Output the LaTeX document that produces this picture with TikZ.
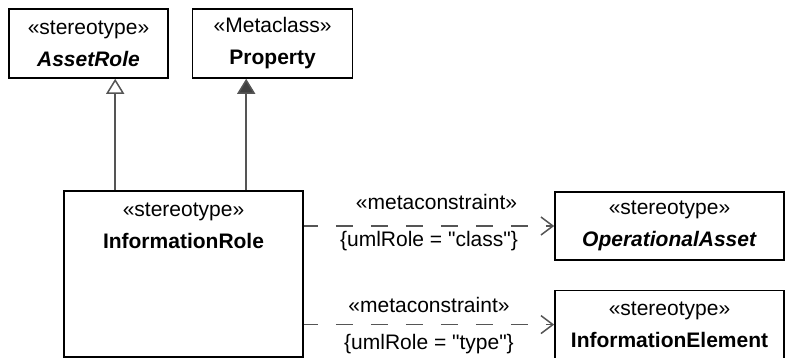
\documentclass[tikz,border=0pt]{standalone}
\usepackage{fontspec}
\setmainfont{Liberation Sans}
\usetikzlibrary{positioning,arrows.meta,calc}
\definecolor{lineC}{RGB}{85,85,85}
\definecolor{headC}{RGB}{64,64,64}
\tikzset{
	classbox/.style={draw, line width=1.6pt, fill=white, align=center,
		font=\fontsize{21}{32}\selectfont, inner sep=0pt},
	classtext/.style={align=center, font=\fontsize{21}{32}\selectfont, inner sep=0pt},
	gen/.style={-{Triangle[open, length=15pt, width=18pt, fill=white]}, line width=1.5pt, lineC},
	ext/.style={-{Triangle[length=15pt, width=18pt, fill=headC]}, line width=1.5pt, lineC},
	dep/.style={-{Straight Barb[length=12pt, width=18pt]}, line width=1.5pt, lineC,
		dash pattern=on 17pt off 18pt, dash phase=3pt},
	deplabel/.style={font=\fontsize{21}{25}\selectfont, inner sep=2pt, text=black},
}

\begin{document}
\begin{tikzpicture}[x=1pt, y=1pt]
		\useasboundingbox (0,0) rectangle (785,358);
		
		% =============== METACLASSES (top row) ===============
		\node[classbox, minimum width=159pt, minimum height=69pt] (ar) at (88.5,314.5)
		{«stereotype»\\\textbf{\textit{AssetRole}}};
		\node[classbox, minimum width=160pt, minimum height=69pt, right=23pt of ar] (prop)
		{«Metaclass»\\\textbf{Property}};
		
		% =============== STEREOTYPE (left) ===============
		\node[classbox, minimum width=239pt, minimum height=166pt] (ir) at (183.5,84) {};
		\node[classtext] (irtext) at ($(ir.north)+(0,-36)$)
		{«stereotype»\\\textbf{InformationRole}};
		
		\coordinate (g1) at ($(ir.north west)+(52,0)$);
		\coordinate (g2) at ($(ir.north west)+(183,0)$);
		\draw[gen] (g1) -- (g1 |- ar.south);
		\draw[ext] (g2) -- (g2 |- prop.south);
		
		% =============== TARGETS (right) ===============
		\node[classbox, minimum width=229pt, minimum height=68pt] (oa) at (669.5,132)
		{«stereotype»\\\textbf{\textit{OperationalAsset}}};
		\node[classbox, minimum width=229pt, minimum height=68pt, below=29pt of oa] (ie)
		{«stereotype»\\\textbf{InformationElement}};
		
		\draw[dep] (ir.east |- oa.west) -- (oa.west)
		node[deplabel, pos=0.53, above=14pt] (mc1) {«metaconstraint»}
		node[deplabel, pos=0.5, below=3pt] (cn1) {\{umlRole = \textquotedbl class\textquotedbl\}};
		\draw[dep] (ir.east |- ie.west) -- (ie.west)
		node[deplabel, pos=0.5, above=9pt] (mc2) {«metaconstraint»}
		node[deplabel, pos=0.5, below=7pt] (cn2) {\{umlRole = \textquotedbl type\textquotedbl\}};
		
	\end{tikzpicture}
\end{document}
